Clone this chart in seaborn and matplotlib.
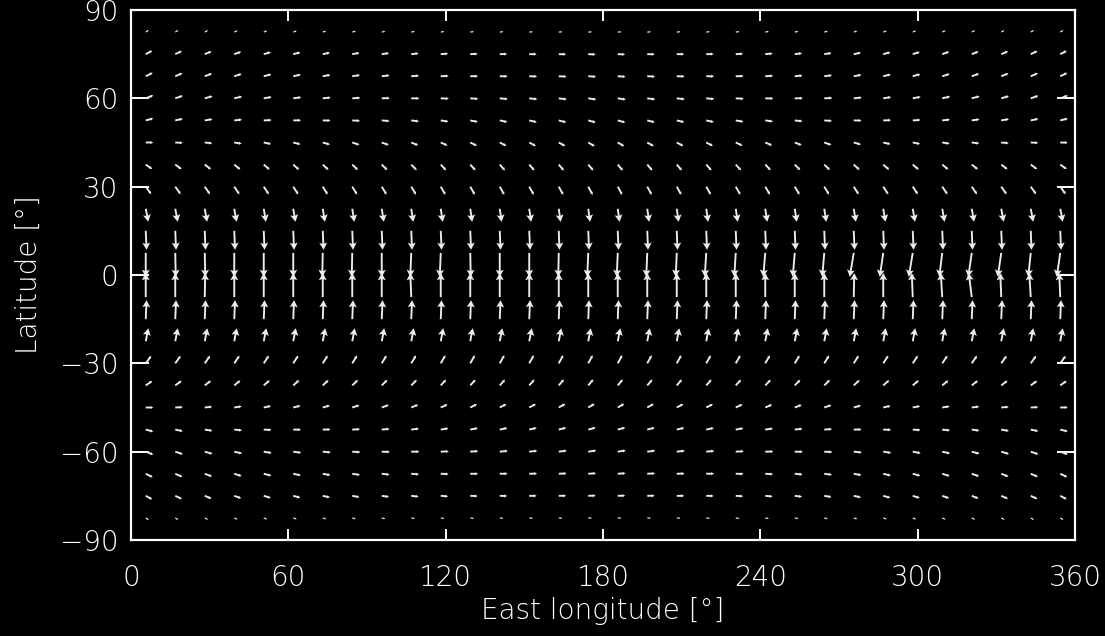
import matplotlib
matplotlib.use("Agg")
import matplotlib.pyplot as plt
import numpy as np
import seaborn as sns

# grid of the wind field (degrees)
lons = [5.625, 16.875, 28.125, 39.375, 50.625, 61.875, 73.125, 84.375,
        95.625, 106.875, 118.125, 129.375, 140.625, 151.875, 163.125, 174.375,
        185.625, 196.875, 208.125, 219.375, 230.625, 241.875, 253.125, 264.375,
        275.625, 286.875, 298.125, 309.375, 320.625, 331.875, 343.125, 354.375]
lats = [82.5, 75.0, 67.5, 60.0, 52.5, 45.0, 37.5, 30.0, 22.5, 15.0, 7.5, 0.0,
        -7.5, -15.0, -22.5, -30.0, -37.5, -45.0, -52.5, -60.0, -67.5, -75.0, -82.5]

# zonal / meridional wind per latitude row (as seen near 0E)
u_by_lat = [3.0, 6.5, 7.0, 7.5, 7.5, 7.5, 6.5, 5.5, 2.5, 0.8, 0.0, 1.5,
            0.0, 0.8, 2.5, 5.5, 6.5, 7.5, 7.5, 7.5, 7.0, 6.5, 3.0]
v_by_lat = [2.0, 3.5, 3.5, 3.0, 2.0, 0.0, -4.5, -7.5, -13.0, -19.0, -24.0, 0.0,
            24.0, 19.0, 13.0, 7.5, 4.5, 0.0, -2.0, -3.0, -3.5, -3.5, -2.0]

# equatorward turning of the extratropical arrows along longitude (deg)
turn_by_lon = [0, 3, 6, 9, 12, 14, 16, 18, 20, 22, 24, 26, 27, 28, 29, 30,
               30, 29, 28, 27, 25, 23, 21, 19, 16, 13, 11, 9, 7, 5, 3, 1]
turn_weight = [1.0, 1.0, 1.0, 1.0, 1.0, 1.0, 0.5, 0.25, 0.1, 0.0, 0.0, 0.0,
               0.0, 0.0, 0.0, 0.25, 0.5, 1.0, 1.0, 1.0, 1.0, 1.0, 1.0]

# zonal wind of the rows next to the equator (7.5N and 7.5S)
u_7n = [0.0, 0.5, 0.5, 0.0, 0.0, 0.0, -0.5, -0.5, 0.0, -1.0, -1.0, 0.5,
        0.0, 0.0, -0.5, -1.0, -1.0, -1.0, -1.0, -1.5, -1.5, -2.0, -2.0, -2.0,
        -4.0, -3.5, -4.0, -3.0, -3.5, -3.5, -2.5, -3.5]
u_7s = [0.0, 0.0, 0.5, 0.0, 0.0, 0.0, 0.0, 0.0, 0.0, -1.0, 0.0, 0.0,
        0.0, 0.0, 0.0, 0.0, 0.0, 0.0, 0.0, 0.0, 0.0, 0.0, 0.0, 0.0,
        0.5, 0.0, -1.0, -1.5, -3.0, -1.0, -1.5, -1.0]

xticks = [0, 60, 120, 180, 240, 300, 360]
yticks = [-90, -60, -30, 0, 30, 60, 90]

sns.set_theme(style="dark", rc={
    "figure.facecolor": "black", "axes.facecolor": "black",
    "axes.edgecolor": "white", "text.color": "white",
    "xtick.color": "white", "ytick.color": "white",
    "axes.labelcolor": "white", "axes.grid": False,
})
plt.rcParams["font.family"] = ["DejaVu Sans"]

fig = plt.figure(figsize=(11.05, 6.36), dpi=100)
ax = fig.add_axes([131 / 1105, 96 / 636, 944 / 1105, 530 / 636])

lon_grid, lat_grid = np.meshgrid(lons, lats)
u0 = np.repeat(np.array(u_by_lat)[:, None], len(lons), axis=1)
v0 = np.repeat(np.array(v_by_lat)[:, None], len(lons), axis=1)
u0[lats.index(7.5)] = u_7n
u0[lats.index(-7.5)] = u_7s

# turn arrows toward the equator: clockwise in the north, anticlockwise south
ang = -np.sign(lat_grid) * np.radians(np.outer(turn_weight, turn_by_lon))
u = u0 * np.cos(ang) - v0 * np.sin(ang)
v = u0 * np.sin(ang) + v0 * np.cos(ang)
speed = np.hypot(u, v)

# long arrows get a visible head, short ones are mostly shaft (IDL look)
big = speed >= 10
small = ~big
common = dict(color="#ececec", pivot="tail", angles="uv",
              scale_units="dots", scale=1.0, width=0.002)
ax.quiver(lon_grid[big], lat_grid[big], u[big], v[big],
          headwidth=4.2, headlength=3.8, headaxislength=3.2, **common)
ax.quiver(lon_grid[small], lat_grid[small], u[small], v[small],
          headwidth=1.8, headlength=1.6, headaxislength=1.4,
          minshaft=2, minlength=0.3, **common)

ax.set_xlim(0, 360)
ax.set_ylim(-90, 90)
ax.set_xticks(xticks)
ax.set_yticks(yticks)
ax.set_yticklabels([str(t).replace("-", "\u2212") for t in yticks])
ax.tick_params(axis="x", direction="in", length=8, width=1.4, top=True,
               bottom=True, labelsize=20, pad=17)
ax.tick_params(axis="y", direction="in", length=13, width=1.4, left=True,
               right=True, labelsize=20, pad=9)
for s in ax.spines.values():
    s.set_color("white")
    s.set_linewidth(1.6)

for lab in ax.get_xticklabels() + ax.get_yticklabels():
    lab.set_fontweight("light")
ax.set_xlabel("East longitude [°]", fontsize=20, fontweight="light", labelpad=4)
ax.set_ylabel("Latitude [°]", fontsize=20, fontweight="light", labelpad=12)

fig.savefig("out.png", dpi=100, facecolor="black")
